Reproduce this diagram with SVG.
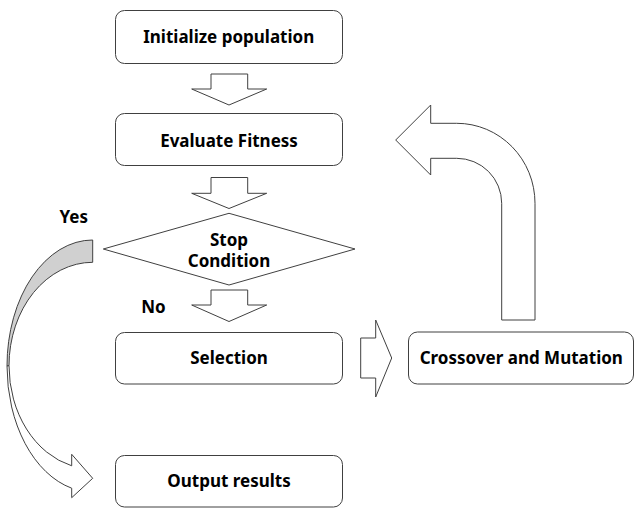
<svg xmlns="http://www.w3.org/2000/svg" width="634" height="508" viewBox="0 0 634 508">
<style>
.box{fill:#fff;stroke:#404040;stroke-width:1}
.arr{fill:#fff;stroke:#404040;stroke-width:1;stroke-linejoin:miter}
.t{font-family:"Noto Sans","Liberation Sans",sans-serif;font-weight:bold;font-size:17px;fill:#000;text-anchor:middle}
</style>
<rect width="634" height="508" fill="#fff"/>
<g id="connectors">
<path class="arr" d="M211 74 H247.7 V89 H266.7 L229 105 L191.7 89 H211 Z"/>
<path class="arr" d="M211 177.5 H247.7 V193.3 H266.7 L229 208.5 L191.7 193.3 H211 Z"/>
<path class="arr" d="M211 290 H247.7 V305 H266.7 L229 321.5 L191.7 305 H211 Z"/>
<path class="arr" d="M360.7 338 H375.7 V320 L391.7 358 L375.7 397 V378 H360.7 Z"/>
<path class="arr" d="M395.7 140 L430.7 105 V123.3 H456.7 A78.3 80 0 0 1 535 203.3 V320 H501.7 V203.3 A45 45 0 0 0 456.7 158.3 H430.7 V175 Z"/>
<path d="M92.7 240 A85.7 126 0 0 0 7 366 L9 365.7 A83.7 103.4 0 0 1 92.7 262.3 Z" fill="#d0d0d0" stroke="#404040" stroke-width="1"/>
<path class="arr" d="M7 366 A85.7 126 0 0 0 71.7 488.2 V497.7 L92.7 478.3 L71.7 454.3 V465.8 A83.7 103.4 0 0 1 9 365.7 Z"/>
<text class="t" x="73.7" y="222.7">Yes</text>
<text class="t" x="153.5" y="312.7">No</text>
</g>
<g id="init">
<rect class="box" x="115.5" y="10.5" width="227" height="53" rx="9"/>
<text class="t" x="228.7" y="43.3">Initialize population</text>
</g>
<g id="evaluate">
<rect class="box" x="115.5" y="113.5" width="227" height="52" rx="9"/>
<text class="t" x="229" y="146.5">Evaluate Fitness</text>
</g>
<g id="stop">
<polygon class="box" points="103.3,249 229,213.3 355,249 229,285"/>
<text class="t" x="229" y="245.5">Stop</text>
<text class="t" x="229" y="266.5">Condition</text>
</g>
<g id="selection">
<rect class="box" x="115.5" y="332.5" width="227" height="51.5" rx="9"/>
<text class="t" x="229" y="363.5">Selection</text>
</g>
<g id="crossover">
<rect class="box" x="408.5" y="332" width="225" height="52" rx="9"/>
<text class="t" x="521.3" y="364.3">Crossover and Mutation</text>
</g>
<g id="output">
<rect class="box" x="115.5" y="455.5" width="227" height="51.5" rx="9"/>
<text class="t" x="229" y="486.7">Output results</text>
</g>
</svg>
